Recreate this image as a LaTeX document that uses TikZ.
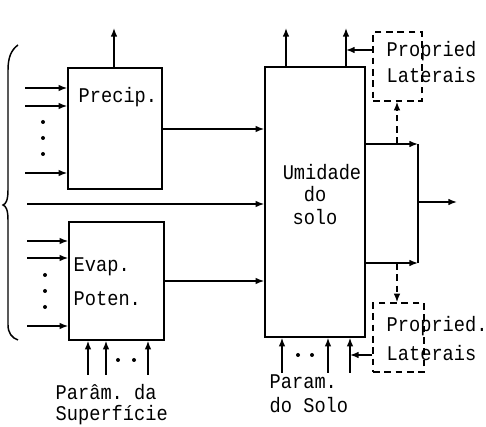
\documentclass[tikz,border=0pt]{standalone}
\usepackage{fontspec}
\setmonofont{Liberation Mono}
\usetikzlibrary{arrows.meta,fit}
\begin{document}
\begin{tikzpicture}[x=0.75pt,y=-0.75pt,line width=1.1pt,
  >={Latex[length=6.5pt,width=5pt]},
  blk/.style={draw,inner sep=0pt,line width=1.2pt},
  dbox/.style={draw,inner sep=0pt,dash pattern=on 5pt off 3.5pt,line width=1.1pt},
  lbl/.style={font=\fontsize{14}{16}\selectfont\ttfamily,inner sep=0pt,yscale=1.12},
  dotm/.style={circle,fill,inner sep=0pt,minimum size=3pt},
  dsh/.style={dash pattern=on 5pt off 3.5pt}]
\useasboundingbox (0,0) rectangle (486,427);
% boxes
\node[blk,fit={(68,68) (162,189)}] (P) {};
\node[blk,fit={(69,222) (164,340)}] (E) {};
\node[blk,fit={(265,67) (365,337)}] (U) {};
\node[dbox,fit={(373,32) (422,101)}] (L1) {};
\node[dbox,fit={(373,303) (424,372)}] (L2) {};
% texts
\node[lbl,anchor=west] (tP) at (78,97) {Precip.};
\node[lbl,anchor=west] (tE1) at (73,267) {Evap.};
\node[lbl,anchor=west] (tE2) at (73,299) {Poten.};
\node[lbl] (tU1) at (322,172) {Umidade};
\node[lbl] (tU2) at (315,194) {do};
\node[lbl] (tU3) at (315,217) {solo};
\node[lbl,anchor=west] (tL1a) at (386,51) {Propried};
\node[lbl,anchor=west] (tL1b) at (386,75) {Laterais};
\node[lbl,anchor=west] (tL2a) at (386,326) {Propried.};
\node[lbl,anchor=west] (tL2b) at (386,353) {Laterais};
\node[lbl,anchor=west] (tS1) at (55,392) {Parâm. da};
\node[lbl,anchor=west] (tS2) at (55,415) {Superfície};
\node[lbl,anchor=west] (tO1) at (269,382) {Param.};
\node[lbl,anchor=west] (tO2) at (269,405) {do Solo};
% brace
\draw (18,45) .. controls (11,50) and (8,58) .. (8,70) -- (8,190)
  .. controls (8,200) and (6,204) .. (3,205) .. controls (6,206) and (8,210) .. (8,220)
  -- (8,325) .. controls (8,333) and (12,338) .. (18,340);
% coordinates
\coordinate (pu) at (114,28);
\coordinate (p1) at (25,88);
\coordinate (p2) at (25,106);
\coordinate (p3) at (25,173);
\coordinate (e1) at (27,241);
\coordinate (e2) at (27,258);
\coordinate (e3) at (27,326);
\coordinate (mid) at (27,204);
\coordinate (po) at (162,129);
\coordinate (eo) at (164,281);
\coordinate (b1) at (88,375);
\coordinate (b2) at (106,375);
\coordinate (b3) at (148,375);
\coordinate (u1) at (286,28);
\coordinate (u2) at (346,28);
\coordinate (c1) at (282,373);
\coordinate (c2) at (328,373);
\coordinate (c3) at (350,373);
\coordinate (oa) at (365,144);
\coordinate (ob) at (365,263);
\coordinate (ja) at (418,144);
\coordinate (jb) at (418,263);
\coordinate (jm) at (418,202);
\coordinate (out) at (457,202);
\coordinate (da) at (397,144);
\coordinate (db) at (397,263);
% Precip connectors
\draw[->] (P.north -| pu) -- (pu);
\foreach \c in {p1,p2,p3} \draw[->] (\c) -- (\c -| P.west);
\foreach \y in {122,138,154} \node[dotm] at (43,\y) {};
\draw[->] (po) -- (po -| U.west);
\draw[->] (mid) -- (mid -| U.west);
% Evap connectors
\foreach \c in {e1,e2,e3} \draw[->] (\c) -- (\c -| E.west);
\foreach \y in {275,291,307} \node[dotm] at (45,\y) {};
\draw[->] (eo) -- (eo -| U.west);
\foreach \c in {b1,b2,b3} \draw[->] (\c) -- (\c |- E.south);
\foreach \x in {118,134} \node[dotm] at (\x,360) {};
% Umidade connectors
\draw[->] (u1 |- U.north) -- (u1);
\draw[->] (u2 |- U.north) -- (u2);
\draw[->] (L1.west |- 0,50) -- (346,50);
\foreach \c in {c1,c2,c3} \draw[->] (\c) -- (\c |- U.south);
\foreach \x in {298,312} \node[dotm] at (\x,355) {};
\draw[->] (L2.west |- 0,355) -- (350,355);
\draw[->] (oa) -- (ja);
\draw[->] (ob) -- (jb);
\draw (ja) -- (jb);
\draw[->] (jm) -- (out);
\draw[->,dsh] (da) -- (da |- L1.south);
\draw[->,dsh] (db) -- (db |- L2.north);
\end{tikzpicture}
\end{document}
